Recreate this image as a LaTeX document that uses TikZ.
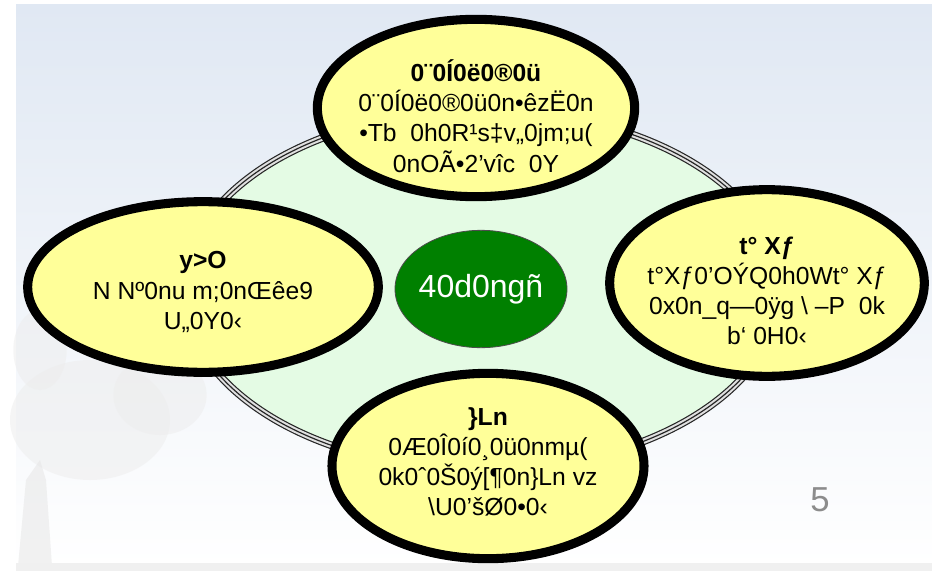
\documentclass[tikz,border=0pt]{standalone}
\usepackage{fontspec}
\setmainfont{Liberation Sans}
\usepackage{tikz}
\usetikzlibrary{shapes.geometric}
\definecolor{pale}{RGB}{255,255,153}
\definecolor{mint}{RGB}{228,251,228}
\definecolor{leaf}{RGB}{0,128,0}
\definecolor{sky}{RGB}{224,232,243}
\definecolor{pagegray}{RGB}{140,140,140}

\begin{document}
\begin{tikzpicture}[x=0.75pt,y=-0.75pt,
	bubble/.style={ellipse,draw=black,line width=6.8pt,fill=pale,inner sep=0pt},
	words/.style={align=center,font=\fontsize{18.5}{22.6}\selectfont},
	ring/.style={draw=black!85,line width=0.9pt,double=white!88!black,double distance=4pt}]
	\useasboundingbox (0,0) rectangle (932,571);
	\fill[white] (0,0) rectangle (932,571);
	\shade[top color=sky,middle color=sky!45,bottom color=white] (16,4) rectangle (932,566);
	% faded tree
	\fill[black!7,opacity=0.5] (90,420) ellipse [x radius=60pt, y radius=45pt];
	\fill[black!7,opacity=0.5] (160,395) ellipse [x radius=35pt, y radius=30pt];
	\fill[black!7,opacity=0.5] (40,350) ellipse [x radius=20pt, y radius=30pt];
	\fill[black!10,opacity=0.5] (18,566) -- (26,480) -- (40,460) -- (46,480) -- (52,566) -- cycle;
	\fill[black!6] (16,563) rectangle (932,571);
	% ring
	\draw[ring,fill=mint] (482,290) ellipse [x radius=223.5pt, y radius=135pt];
	\draw[draw=black!85,line width=0.9pt] (482,290) ellipse [x radius=223.5pt, y radius=135pt];
	\path (481,289) node(c0)[ellipse,draw=black!70,line width=0.6pt,fill=leaf,minimum width=129pt,minimum height=88pt]{};
	\path (476,108) node(b1)[bubble,minimum width=238pt,minimum height=133pt]{};
	\path (203,287) node(b2)[bubble,minimum width=263pt,minimum height=128pt]{};
	\path (767,283) node(b3)[bubble,minimum width=236pt,minimum height=140pt]{};
	\path (488,466) node(b4)[bubble,minimum width=234pt,minimum height=139pt]{};
	\path (481,289) node(t0)[text=white,font=\fontsize{24}{28}\selectfont]{40d0ngñ};
	\path (476,116) node(t1)[words]{\textbf{0¨0Í0ë0®0ü}\\0¨0Í0ë0®0ü0n•êzË0n\\•Tb\ \ 0h0R¹s‡v„0jm;u(\\0nOÃ•2’vîc\ \ 0Y};
	\path (203,292) node(t2)[words]{\textbf{y>O}\\N Nº0nu m;0nŒêe9\\U„0Y0‹};
	\path (767,291) node(t3)[words]{\textbf{t° Xƒ}\\t°Xƒ0’OÝQ0h0Wt° Xƒ\\0x0n\_q—0ÿg \textbackslash{} –P\ \ 0k\\b‘ 0H0‹};
	\path (488,462) node(t4)[words]{\textbf{\}Ln}\\0Æ0Î0í0¸0ü0nmµ(\\0k0ˆ0Š0ý[¶0n\}Ln vz\\\textbackslash U0’šØ0•0‹};
	\path (820,500) node(pg)[text=pagegray,font=\fontsize{26}{30}\selectfont]{5};
\end{tikzpicture}
\end{document}
